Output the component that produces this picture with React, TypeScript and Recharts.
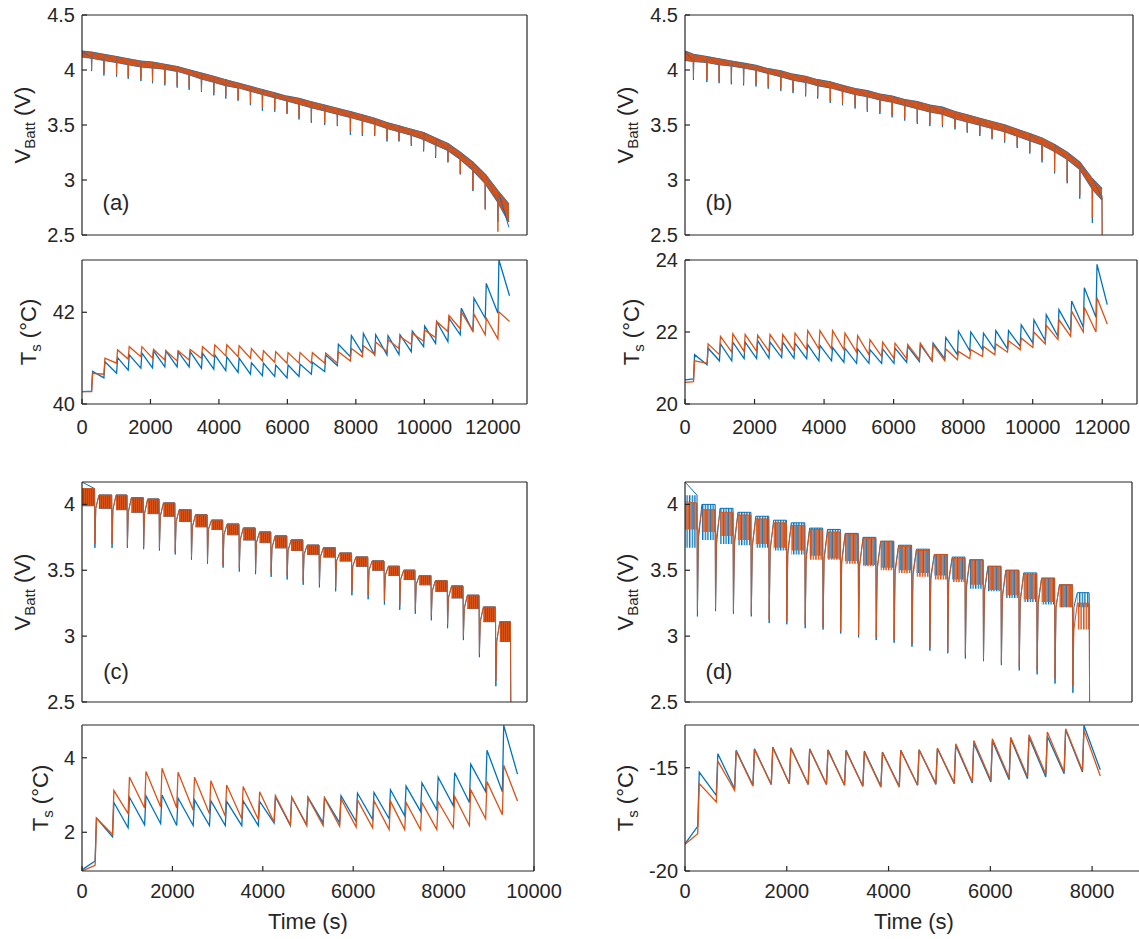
import React from 'react';
import { Area, ComposedChart, Line, XAxis, YAxis } from 'recharts';

const BLUE = '#0072BD';
const ORANGE = '#D95319';
const AX = '#262626';
const FONT = '"Liberation Sans", Arial, Helvetica, sans-serif';

// ---------- panel (a) ----------
const pulseA = [280, 640, 1010, 1350, 1720, 2060, 2420, 2780, 3130, 3490, 3850, 4200, 4560, 4920, 5270, 5630, 5990,
  6340, 6700, 7090, 7460, 7840, 8190, 8550, 8910, 9260, 9620, 9980, 10330, 10690, 11050, 11420, 11780, 12150];
const vHiA = [4.16, 4.14, 4.12, 4.10, 4.08, 4.07, 4.05, 4.03, 4.00, 3.97, 3.94, 3.91, 3.88, 3.85, 3.82, 3.79, 3.76,
  3.74, 3.71, 3.68, 3.65, 3.62, 3.59, 3.56, 3.52, 3.49, 3.46, 3.43, 3.38, 3.33, 3.25, 3.16, 3.05, 2.90];
const vLoA = [4.11, 4.09, 4.07, 4.05, 4.03, 4.02, 4.01, 3.99, 3.96, 3.92, 3.89, 3.86, 3.84, 3.81, 3.78, 3.75, 3.72,
  3.69, 3.66, 3.63, 3.60, 3.57, 3.54, 3.51, 3.47, 3.44, 3.41, 3.37, 3.32, 3.27, 3.19, 3.09, 2.97, 2.80];
const vSpikeMeasA = [3.99, 3.95, 3.94, 3.92, 3.90, 3.88, 3.86, 3.84, 3.82, 3.80, 3.77, 3.74, 3.72, 3.68, 3.63, 3.62, 3.60,
  3.55, 3.52, 3.50, 3.49, 3.41, 3.40, 3.40, 3.35, 3.35, 3.31, 3.26, 3.20, 3.16, 3.05, 2.90, 2.74, 2.62];
const vSpikeSimA = [4.00, 3.97, 3.96, 3.94, 3.92, 3.90, 3.88, 3.86, 3.84, 3.81, 3.79, 3.76, 3.73, 3.70, 3.66, 3.64, 3.61,
  3.57, 3.54, 3.52, 3.50, 3.44, 3.42, 3.41, 3.37, 3.36, 3.33, 3.28, 3.22, 3.17, 3.06, 2.91, 2.73, 2.53];
const vStartA = [4.12, 4.17];
const vEndA = [12470, 2.62, 2.78];
const vTailMeasA = [[12470, 2.57]];
const vTailSimA = [[12470, 2.70]];

const tsValleyMeasA = [40.28, 40.57, 40.67, 40.74, 40.78, 40.79, 40.81, 40.81, 40.81, 40.78, 40.76, 40.73, 40.69, 40.65,
  40.62, 40.60, 40.57, 40.60, 40.65, 40.71, 40.84, 41.03, 41.11, 41.07, 41.07, 41.08, 41.14, 41.25, 41.32, 41.36, 41.51,
  41.58, 41.87, 41.98];
const tsPeakMeasA = [40.71, 40.92, 41.01, 41.07, 41.11, 41.16, 41.16, 41.14, 41.14, 41.11, 41.07, 41.03, 41.00, 40.90,
  40.89, 40.85, 40.85, 40.87, 40.91, 41.07, 41.30, 41.49, 41.54, 41.51, 41.49, 41.51, 41.59, 41.70, 41.80, 41.87, 42.09,
  42.31, 42.63, 43.14];
const tsValleySimA = [40.27, 40.65, 40.89, 40.98, 41.03, 41.00, 40.96, 40.94, 40.96, 41.00, 41.03, 41.05, 41.03, 41.00,
  40.94, 40.91, 40.89, 40.89, 40.89, 40.89, 40.89, 40.94, 41.03, 41.08, 41.14, 41.21, 41.30, 41.37, 41.45, 41.58, 41.64,
  41.59, 41.51, 41.42];
const tsPeakSimA = [40.67, 41.00, 41.18, 41.25, 41.25, 41.19, 41.16, 41.16, 41.19, 41.25, 41.29, 41.29, 41.27, 41.21,
  41.16, 41.14, 41.12, 41.12, 41.12, 41.11, 41.14, 41.21, 41.27, 41.35, 41.40, 41.47, 41.54, 41.61, 41.80, 41.93, 42.01,
  41.96, 41.87, 42.01];
const tsEndsA = [40.27, 40.27, 12490, 42.36, 41.80]; // start meas, start sim, end time, end meas, end sim

// ---------- panel (b) ----------
const pulseB = [245, 635, 990, 1345, 1700, 2060, 2415, 2780, 3135, 3500, 3850, 4215, 4570, 4935, 5290, 5655, 6010,
  6375, 6740, 7105, 7470, 7835, 8190, 8555, 8910, 9275, 9640, 10005, 10360, 10725, 11090, 11455, 11820];
const vHiB = [4.14, 4.12, 4.10, 4.08, 4.06, 4.04, 4.01, 3.99, 3.96, 3.94, 3.91, 3.89, 3.86, 3.83, 3.81, 3.78, 3.76,
  3.73, 3.71, 3.68, 3.66, 3.62, 3.59, 3.56, 3.53, 3.50, 3.46, 3.42, 3.38, 3.32, 3.25, 3.16, 3.01];
const vLoB = [4.08, 4.07, 4.05, 4.04, 4.02, 4.00, 3.97, 3.94, 3.91, 3.89, 3.86, 3.84, 3.81, 3.78, 3.76, 3.73, 3.71,
  3.68, 3.65, 3.62, 3.60, 3.56, 3.53, 3.50, 3.47, 3.44, 3.40, 3.36, 3.32, 3.26, 3.19, 3.10, 2.92];
const vSpikeMeasB = [3.91, 3.89, 3.88, 3.87, 3.86, 3.85, 3.83, 3.81, 3.79, 3.76, 3.74, 3.70, 3.68, 3.65, 3.62, 3.60, 3.57,
  3.54, 3.51, 3.49, 3.48, 3.46, 3.43, 3.40, 3.37, 3.34, 3.29, 3.24, 3.16, 3.06, 2.97, 2.83, 2.61];
const vSpikeSimB = [3.93, 3.91, 3.90, 3.89, 3.88, 3.87, 3.85, 3.83, 3.81, 3.78, 3.76, 3.72, 3.70, 3.67, 3.64, 3.62, 3.59,
  3.56, 3.53, 3.51, 3.50, 3.48, 3.45, 3.42, 3.39, 3.36, 3.31, 3.26, 3.18, 3.08, 2.99, 2.86, 2.66];
const vStartB = [4.09, 4.17];
const vEndB = [12100, 2.82, 2.92];
const vTailMeasB = [[12100, 2.84], [12106, 2.50]];
const vTailSimB = [[12100, 2.86], [12106, 2.50]];

const tsPeakMeasB = [21.37, 21.55, 21.67, 21.72, 21.72, 21.76, 21.72, 21.72, 21.69, 21.65, 21.63, 21.57, 21.55, 21.53,
  21.51, 21.53, 21.55, 21.60, 21.65, 21.69, 21.85, 22.02, 22.00, 21.97, 22.04, 22.04, 22.20, 22.34, 22.48, 22.62, 22.86,
  23.23, 23.88];
const tsValleyMeasB = [20.70, 21.09, 21.20, 21.20, 21.26, 21.26, 21.27, 21.29, 21.27, 21.26, 21.20, 21.20, 21.16, 21.13,
  21.13, 21.13, 21.13, 21.16, 21.18, 21.20, 21.26, 21.37, 21.48, 21.51, 21.51, 21.53, 21.60, 21.69, 21.76, 21.88, 22.04,
  22.13, 22.41];
const tsPeakSimB = [21.20, 21.67, 21.88, 21.95, 21.93, 21.91, 21.93, 21.93, 21.97, 22.04, 22.04, 22.04, 21.97, 21.90,
  21.79, 21.72, 21.69, 21.65, 21.69, 21.65, 21.53, 21.46, 21.51, 21.60, 21.67, 21.76, 21.83, 22.00, 22.19, 22.34, 22.58,
  22.69, 22.95];
const tsValleySimB = [20.62, 21.13, 21.37, 21.44, 21.46, 21.46, 21.46, 21.46, 21.48, 21.51, 21.53, 21.53, 21.51, 21.44,
  21.37, 21.32, 21.27, 21.26, 21.23, 21.20, 21.20, 21.23, 21.26, 21.32, 21.37, 21.44, 21.51, 21.57, 21.67, 21.79, 21.88,
  22.00, 22.00];
const tsEndsB = [20.67, 20.60, 12145, 22.76, 22.22];

// ---------- panel (c) ----------
const pulseC = [290, 675, 1020, 1385, 1740, 2095, 2460, 2820, 3170, 3535, 3900, 4250, 4610, 4970, 5335, 5700, 6065,
  6430, 6795, 7140, 7490, 7850, 8215, 8570, 8930, 9300];
// ripple band per cycle: the first entry is the stretch before the first pulse
const vHiC = [4.12, 4.07, 4.07, 4.05, 4.04, 4.01, 3.96, 3.92, 3.88, 3.85, 3.82, 3.79, 3.76, 3.73, 3.69, 3.67, 3.63,
  3.60, 3.57, 3.53, 3.50, 3.46, 3.42, 3.38, 3.31, 3.22, 3.11];
const vLoC = [3.99, 3.97, 3.96, 3.94, 3.93, 3.91, 3.87, 3.83, 3.81, 3.77, 3.73, 3.71, 3.67, 3.65, 3.62, 3.60, 3.57,
  3.53, 3.50, 3.46, 3.43, 3.39, 3.34, 3.29, 3.21, 3.11, 2.96];
const vSpikeMeasC = [3.67, 3.67, 3.67, 3.66, 3.65, 3.62, 3.58, 3.55, 3.52, 3.49, 3.47, 3.45, 3.43, 3.39, 3.37, 3.34,
  3.31, 3.28, 3.24, 3.20, 3.17, 3.12, 3.06, 2.97, 2.84, 2.62];
const vSpikeSimC = [3.70, 3.70, 3.69, 3.68, 3.67, 3.64, 3.60, 3.57, 3.54, 3.52, 3.50, 3.48, 3.46, 3.42, 3.40, 3.37,
  3.34, 3.31, 3.27, 3.23, 3.20, 3.15, 3.09, 3.00, 2.87, 2.66];
const vStartC = [4.17, 4.12];
const vEndTC = 9628;
const vTailMeasC = [[9630, 2.97], [9636, 2.50]];
const vTailSimC = [[9630, 2.96], [9636, 2.50]];

const tsPeakMeasC = [2.38, 2.80, 2.94, 2.98, 3.00, 2.92, 2.87, 2.85, 2.83, 2.84, 2.83, 2.95, 2.94, 2.94, 2.93, 2.98,
  3.05, 3.07, 3.14, 3.24, 3.33, 3.48, 3.60, 3.83, 4.20, 4.87];
const tsValleyMeasC = [1.23, 1.88, 2.12, 2.20, 2.23, 2.18, 2.18, 2.18, 2.18, 2.18, 2.18, 2.25, 2.18, 2.20, 2.25, 2.25,
  2.29, 2.34, 2.36, 2.44, 2.56, 2.60, 2.71, 2.80, 3.09, 3.09];
const tsPeakSimC = [2.38, 3.12, 3.48, 3.63, 3.72, 3.61, 3.48, 3.38, 3.27, 3.23, 3.09, 2.98, 2.94, 2.93, 2.92, 2.90,
  2.87, 2.85, 2.83, 2.80, 2.80, 2.82, 2.96, 3.14, 3.36, 3.80];
const tsValleySimC = [1.11, 1.94, 2.50, 2.65, 2.68, 2.65, 2.59, 2.50, 2.43, 2.36, 2.34, 2.27, 2.20, 2.18, 2.18, 2.16,
  2.14, 2.12, 2.07, 2.07, 2.07, 2.07, 2.12, 2.18, 2.36, 2.47];
const tsEndsC = [0.99, 0.96, 9635, 3.56, 2.84];

// ---------- panel (d) ----------
const pulseD = [250, 615, 975, 1335, 1695, 2050, 2420, 2780, 3135, 3495, 3850, 4210, 4570, 4930, 5290, 5645, 6010,
  6370, 6730, 7090, 7450, 7810];
const vSpikeMeasD = [3.15, 3.19, 3.17, 3.15, 3.10, 3.09, 3.06, 3.05, 3.02, 2.99, 2.97, 2.95, 2.92, 2.89, 2.87, 2.83,
  2.81, 2.78, 2.74, 2.71, 2.64, 2.57];
const vSpikeSimD = [3.20, 3.21, 3.19, 3.17, 3.13, 3.11, 3.09, 3.07, 3.04, 3.01, 2.99, 2.97, 2.94, 2.91, 2.88, 2.86,
  2.83, 2.80, 2.77, 2.74, 2.68, 2.62];
const vHiMeasD = [4.07, 4.00, 3.97, 3.94, 3.91, 3.88, 3.86, 3.82, 3.81, 3.78, 3.75, 3.72, 3.69, 3.66, 3.62, 3.60, 3.58,
  3.53, 3.50, 3.48, 3.44, 3.39, 3.33];
const vLoMeasD = [3.67, 3.73, 3.70, 3.69, 3.67, 3.65, 3.62, 3.61, 3.59, 3.57, 3.54, 3.52, 3.50, 3.48, 3.46, 3.43, 3.36,
  3.34, 3.29, 3.26, 3.24, 3.22, 3.22];
const vHiSimD = [4.01, 3.96, 3.94, 3.92, 3.89, 3.86, 3.84, 3.81, 3.79, 3.77, 3.74, 3.72, 3.68, 3.65, 3.62, 3.59, 3.58,
  3.53, 3.50, 3.47, 3.44, 3.39, 3.25];
const vLoSimD = [3.81, 3.79, 3.76, 3.73, 3.70, 3.67, 3.65, 3.58, 3.58, 3.55, 3.53, 3.50, 3.48, 3.45, 3.43, 3.41, 3.39,
  3.35, 3.31, 3.28, 3.26, 3.22, 3.05];
const vStartD = [4.17, 4.02];
const vEndTD = 8136;
const vTailMeasD = [[8140, 3.22], [8146, 2.50]];
const vTailSimD = [[8140, 3.05], [8146, 2.50]];

const tsPeakMeasD = [-15.21, -14.32, -14.16, -14.08, -14.00, -14.03, -14.08, -14.13, -14.16, -14.19, -14.24, -14.16,
  -14.13, -14.08, -13.92, -13.81, -13.71, -13.60, -13.52, -13.48, -13.16, -12.95];
const tsValleyMeasD = [-17.84, -16.34, -16.02, -15.85, -15.81, -15.77, -15.81, -15.81, -15.85, -15.90, -15.90, -15.90,
  -15.85, -15.81, -15.77, -15.74, -15.69, -15.58, -15.53, -15.45, -15.29, -15.21];
const tsPeakSimD = [-15.77, -14.68, -14.19, -14.11, -14.03, -14.05, -14.11, -14.16, -14.19, -14.24, -14.26, -14.16,
  -14.13, -14.05, -13.84, -13.68, -13.60, -13.52, -13.40, -13.27, -13.11, -13.19];
const tsValleySimD = [-18.19, -16.66, -16.10, -15.90, -15.81, -15.77, -15.81, -15.81, -15.85, -15.90, -15.94, -15.94,
  -15.85, -15.77, -15.74, -15.69, -15.61, -15.48, -15.42, -15.32, -15.21, -15.13];
const tsEndsD = [-18.68, -18.71, 8160, -15.10, -15.40];

// ---------- axes ----------
const xTicks13 = [0, 2000, 4000, 6000, 8000, 10000, 12000];
const xTicks10 = [0, 2000, 4000, 6000, 8000, 10000];
const xTicks9 = [0, 2000, 4000, 6000, 8000];
const vTicksTop = [2.5, 3, 3.5, 4, 4.5];
const vTicksBottom = [2.5, 3, 3.5, 4];

type Pt = { t: number; v: number | null };
type Rg = { t: number; r: [number, number] | null };

// temperature: valley just before each pulse, peak right after it
function tsPoints(pulses: number[], valleys: number[], peaks: number[], start: number, endT: number, endV: number): Pt[] {
  const out: Pt[] = [{ t: 0, v: start }];
  pulses.forEach((t, k) => {
    out.push({ t, v: valleys[k] });
    out.push({ t: t + 30, v: peaks[k] });
  });
  out.push({ t: endT, v: endV });
  return out;
}

// continuous ripple band, one [lo, hi] per pulse
function bandFlat(pulses: number[], hi: number[], lo: number[], start: number[], end: number[]): Rg[] {
  const out: Rg[] = [{ t: 0, r: [start[0], start[1]] }];
  pulses.forEach((t, k) => out.push({ t, r: [lo[k], hi[k]] }));
  out.push({ t: end[0], r: [end[1], end[2]] });
  return out;
}

function spikeFlat(pulses: number[], hi: number[], lo: number[], spikes: number[], start: number, tail: number[][]): Pt[] {
  const out: Pt[] = [{ t: 0, v: start }];
  pulses.forEach((t, k) => {
    out.push({ t: t - 6, v: lo[k] });
    out.push({ t, v: spikes[k] });
    out.push({ t: t + 12, v: hi[k] });
  });
  tail.forEach(([t, v]) => out.push({ t, v }));
  return out;
}

// ripple band broken by the recovery after each pulse
function bandCycles(pulses: number[], hi: number[], lo: number[], endT: number): Rg[] {
  const starts = [0, ...pulses.map((t) => t + 90)];
  const ends = [...pulses.map((t) => t - 8), endT];
  const out: Rg[] = [];
  hi.forEach((h, i) => {
    out.push({ t: starts[i], r: [lo[i], h] });
    out.push({ t: ends[i], r: [lo[i], h] });
    out.push({ t: ends[i] + 3, r: null });
  });
  return out;
}

function spikeCycles(pulses: number[], hi: number[], lo: number[], spikes: number[], start: number, endT: number, tail: number[][]): Pt[] {
  const out: Pt[] = [{ t: 0, v: start }];
  pulses.forEach((t, k) => {
    out.push({ t: t - 8, v: hi[k] });
    out.push({ t, v: spikes[k] });
    out.push({ t: t + 20, v: lo[k + 1] });
    out.push({ t: t + 90, v: hi[k + 1] });
  });
  out.push({ t: endT, v: hi[hi.length - 1] });
  tail.forEach(([t, v]) => out.push({ t, v }));
  return out;
}

function bandArea(key: string, data: Rg[], color: string, fill: string, edge: number) {
  return (
    <Area key={key} xAxisId="b" yAxisId="l" data={data} dataKey="r" type="linear" fill={fill} fillOpacity={1}
      stroke={edge > 0 ? color : 'none'} strokeWidth={edge} dot={false} activeDot={false} connectNulls={false}
      isAnimationActive={false} />
  );
}

function trace(key: string, data: Pt[], color: string, width: number) {
  return (
    <Line key={key} xAxisId="b" yAxisId="l" data={data} dataKey="v" type="linear" stroke={color} strokeWidth={width}
      dot={false} activeDot={false} isAnimationActive={false} />
  );
}

type PlotProps = {
  x0: number; y0: number; x1: number; y1: number;
  xMax: number; xTicks: number[]; yDomain: [number, number]; yTicks: number[];
  showX: boolean; xGap: number; children: React.ReactNode;
};

function Plot({ x0, y0, x1, y1, xMax, xTicks, yDomain, yTicks, showX, xGap, children }: PlotProps) {
  const L = 70;
  const T = 12;
  const R = 32;
  const B = showX ? 45 : 14;
  const w = x1 - x0;
  const h = y1 - y0;
  const tickFont = { fill: AX, fontSize: 20, fontFamily: FONT };
  const line = { stroke: AX, strokeWidth: 1.2 };
  return (
    <div style={{ position: 'absolute', left: x0 - L, top: y0 - T }}>
      <ComposedChart width={w + L + R} height={h + T + B} margin={{ top: T - 1, right: R - 1, bottom: 0, left: 0 }}>
        <XAxis xAxisId="b" type="number" dataKey="t" domain={[0, xMax]} ticks={xTicks} interval={0} allowDataOverflow
          height={B} tickSize={-5} tickMargin={xGap} tick={showX ? tickFont : false} axisLine={line} tickLine={line} />
        <XAxis xAxisId="t" orientation="top" type="number" domain={[0, xMax]} ticks={xTicks} interval={0}
          allowDataOverflow height={1} tickSize={-5} tick={false} axisLine={line} tickLine={line} />
        <YAxis yAxisId="l" type="number" domain={yDomain} ticks={yTicks} interval={0} allowDataOverflow width={L}
          tickSize={-5} tickMargin={12} tick={tickFont} axisLine={line} tickLine={line} />
        <YAxis yAxisId="r" orientation="right" type="number" domain={yDomain} ticks={yTicks} interval={0}
          allowDataOverflow width={1} tickSize={-5} tick={false} axisLine={line} tickLine={line} />
        {children}
      </ComposedChart>
    </div>
  );
}

function YLabel({ cx, cy, main, sub, unit }: { cx: number; cy: number; main: string; sub: string; unit: string }) {
  return (
    <div style={{
      position: 'absolute', left: cx, top: cy, transform: 'translate(-50%, -50%) rotate(-90deg)',
      whiteSpace: 'nowrap', fontFamily: FONT, fontSize: 22, lineHeight: '25px', color: AX,
    }}>
      {main}
      <span style={{ fontSize: 15, position: 'relative', top: 5 }}>{sub}</span>
      {' '}{unit}
    </div>
  );
}

function Tag({ cx, cy, text }: { cx: number; cy: number; text: string }) {
  return (
    <div style={{
      position: 'absolute', left: cx, top: cy, transform: 'translate(-50%, -50%)', whiteSpace: 'nowrap',
      fontFamily: FONT, fontSize: 22, lineHeight: '25px', color: AX,
    }}>{text}</div>
  );
}

// vertical hatching that stands in for the dense discharge ripple
function ripplePatterns(id: string, step: number) {
  return (
    <defs key="defs">
      <pattern id={`${id}Blue`} width={step} height={8} patternUnits="userSpaceOnUse" x={step / 2}>
        <rect x={0} y={0} width={step / 2} height={8} fill={BLUE} />
      </pattern>
      <pattern id={`${id}Orange`} width={step} height={8} patternUnits="userSpaceOnUse">
        <rect x={0} y={0} width={step / 2 + 0.2} height={8} fill={ORANGE} />
      </pattern>
    </defs>
  );
}

export default function App() {
  return (
    <div style={{ position: 'absolute', left: 0, top: 0, width: 1139, height: 939, overflow: 'hidden', background: '#fff' }}>
      {/* (a) */}
      <Plot x0={82} y0={15} x1={527} y1={235} xMax={13000} xTicks={xTicks13} yDomain={[2.5, 4.5]} yTicks={vTicksTop} showX={false} xGap={0}>
        {[
          bandArea('bm', bandFlat(pulseA, vHiA, vLoA, vStartA, vEndA), BLUE, BLUE, 1.6),
          trace('sm', spikeFlat(pulseA, vHiA, vLoA, vSpikeMeasA, vStartA[1], vTailMeasA), BLUE, 1),
          bandArea('bs', bandFlat(pulseA, vHiA, vLoA, vStartA, vEndA), ORANGE, ORANGE, 0.6),
          trace('ss', spikeFlat(pulseA, vHiA, vLoA, vSpikeSimA, vStartA[1] - 0.02, vTailSimA), ORANGE, 1),
        ]}
      </Plot>
      <Plot x0={82} y0={260} x1={527} y1={404} xMax={13000} xTicks={xTicks13} yDomain={[40, 43.14]} yTicks={[40, 42]} showX xGap={21}>
        {[
          trace('m', tsPoints(pulseA, tsValleyMeasA, tsPeakMeasA, tsEndsA[0], tsEndsA[2], tsEndsA[3]), BLUE, 1.3),
          trace('s', tsPoints(pulseA, tsValleySimA, tsPeakSimA, tsEndsA[1], tsEndsA[2], tsEndsA[4]), ORANGE, 1.3),
        ]}
      </Plot>

      {/* (b) */}
      <Plot x0={685} y0={15} x1={1133} y1={235} xMax={13000} xTicks={xTicks13} yDomain={[2.5, 4.5]} yTicks={vTicksTop} showX={false} xGap={0}>
        {[
          bandArea('bm', bandFlat(pulseB, vHiB, vLoB, vStartB, vEndB), BLUE, BLUE, 1.6),
          trace('sm', spikeFlat(pulseB, vHiB, vLoB, vSpikeMeasB, vStartB[1], vTailMeasB), BLUE, 1),
          bandArea('bs', bandFlat(pulseB, vHiB, vLoB, vStartB, vEndB), ORANGE, ORANGE, 0.6),
          trace('ss', spikeFlat(pulseB, vHiB, vLoB, vSpikeSimB, vStartB[1] - 0.03, vTailSimB), ORANGE, 1),
        ]}
      </Plot>
      <Plot x0={685} y0={260} x1={1137} y1={404} xMax={13000} xTicks={xTicks13} yDomain={[20, 24]} yTicks={[20, 22, 24]} showX xGap={21}>
        {[
          trace('m', tsPoints(pulseB, tsValleyMeasB, tsPeakMeasB, tsEndsB[0], tsEndsB[2], tsEndsB[3]), BLUE, 1.3),
          trace('s', tsPoints(pulseB, tsValleySimB, tsPeakSimB, tsEndsB[1], tsEndsB[2], tsEndsB[4]), ORANGE, 1.3),
        ]}
      </Plot>

      {/* (c) */}
      <Plot x0={82} y0={482} x1={527} y1={702} xMax={10000} xTicks={xTicks10} yDomain={[2.5, 4.17]} yTicks={vTicksBottom} showX={false} xGap={0}>
        {[
          ripplePatterns('rippleC', 2),
          bandArea('bm', bandCycles(pulseC, vHiC, vLoC, vEndTC), BLUE, 'url(#rippleCBlue)', 1),
          trace('sm', spikeCycles(pulseC, vHiC, vLoC, vSpikeMeasC, vStartC[0], vEndTC, vTailMeasC), BLUE, 1),
          bandArea('bs', bandCycles(pulseC, vHiC, vLoC, vEndTC), ORANGE, 'url(#rippleCOrange)', 0.6),
          trace('ss', spikeCycles(pulseC, vHiC, vLoC, vSpikeSimC, vStartC[1], vEndTC, vTailSimC), ORANGE, 1),
        ]}
      </Plot>
      <Plot x0={82} y0={725} x1={534} y1={871} xMax={10000} xTicks={xTicks10} yDomain={[0.96, 4.88]} yTicks={[2, 4]} showX xGap={18}>
        {[
          trace('m', tsPoints(pulseC, tsValleyMeasC, tsPeakMeasC, tsEndsC[0], tsEndsC[2], tsEndsC[3]), BLUE, 1.3),
          trace('s', tsPoints(pulseC, tsValleySimC, tsPeakSimC, tsEndsC[1], tsEndsC[2], tsEndsC[4]), ORANGE, 1.3),
        ]}
      </Plot>

      {/* (d) */}
      <Plot x0={685} y0={482} x1={1132} y1={702} xMax={9000} xTicks={xTicks9} yDomain={[2.5, 4.17]} yTicks={vTicksBottom} showX={false} xGap={0}>
        {[
          ripplePatterns('rippleD', 2.6),
          bandArea('bm', bandCycles(pulseD, vHiMeasD, vLoMeasD, vEndTD), BLUE, 'url(#rippleDBlue)', 0),
          trace('sm', spikeCycles(pulseD, vHiMeasD, vLoMeasD, vSpikeMeasD, vStartD[0], vEndTD, vTailMeasD), BLUE, 1),
          bandArea('bs', bandCycles(pulseD, vHiSimD, vLoSimD, vEndTD), ORANGE, 'url(#rippleDOrange)', 0),
          trace('ss', spikeCycles(pulseD, vHiSimD, vLoSimD, vSpikeSimD, vStartD[1], vEndTD, vTailSimD), ORANGE, 1),
        ]}
      </Plot>
      <Plot x0={685} y0={725} x1={1143} y1={871} xMax={9000} xTicks={xTicks9} yDomain={[-20, -12.93]} yTicks={[-20, -15]} showX xGap={18}>
        {[
          trace('m', tsPoints(pulseD, tsValleyMeasD, tsPeakMeasD, tsEndsD[0], tsEndsD[2], tsEndsD[3]), BLUE, 1.3),
          trace('s', tsPoints(pulseD, tsValleySimD, tsPeakSimD, tsEndsD[1], tsEndsD[2], tsEndsD[4]), ORANGE, 1.3),
        ]}
      </Plot>

      <YLabel cx={22.5} cy={125} main="V" sub="Batt" unit="(V)" />
      <YLabel cx={28.5} cy={332} main="T" sub="s" unit="(°C)" />
      <YLabel cx={626} cy={125} main="V" sub="Batt" unit="(V)" />
      <YLabel cx={631.5} cy={332} main="T" sub="s" unit="(°C)" />
      <YLabel cx={22.5} cy={592} main="V" sub="Batt" unit="(V)" />
      <YLabel cx={40.5} cy={798} main="T" sub="s" unit="(°C)" />
      <YLabel cx={626} cy={592} main="V" sub="Batt" unit="(V)" />
      <YLabel cx={626} cy={798} main="T" sub="s" unit="(°C)" />

      <Tag cx={116} cy={202} text="(a)" />
      <Tag cx={719} cy={202} text="(b)" />
      <Tag cx={116} cy={671} text="(c)" />
      <Tag cx={719} cy={671} text="(d)" />
      <Tag cx={308} cy={921} text="Time (s)" />
      <Tag cx={914} cy={921} text="Time (s)" />
    </div>
  );
}
